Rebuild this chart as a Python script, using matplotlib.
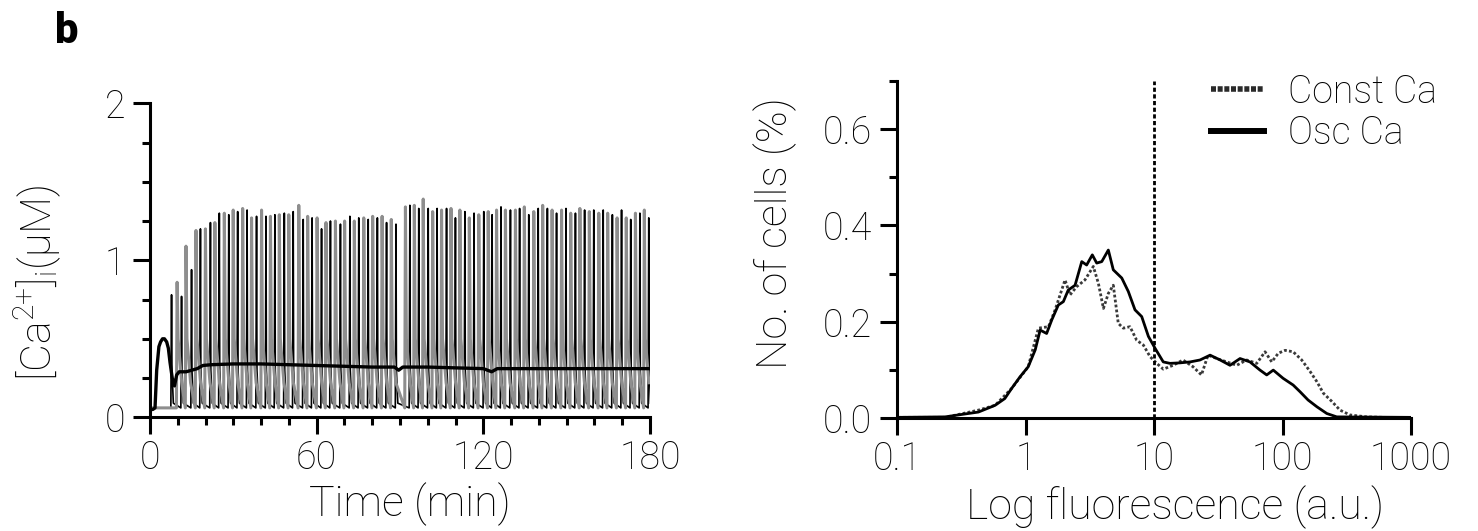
import matplotlib
matplotlib.use("Agg")
import matplotlib.pyplot as plt
from matplotlib.lines import Line2D
from matplotlib.ticker import FixedLocator, NullLocator, FormatStrFormatter

# ---------------- data: panel b (left) ----------------
# mean [Ca2+]i trace (min, uM)
mean_t = [0, 1.0, 1.8, 2.4, 3.2, 3.8, 4.5, 5.2, 6.0, 6.6, 7.2, 8.0, 8.8, 9.6, 10.5, 13, 15, 17, 19,
          22, 30, 40, 50, 60, 70, 80, 88, 89.5, 91, 100, 110, 120, 123, 125, 140, 160, 180]
mean_v = [0.05, 0.05, 0.06, 0.30, 0.45, 0.48, 0.50, 0.50, 0.48, 0.44, 0.35, 0.25, 0.20, 0.27, 0.29,
          0.29, 0.30, 0.31, 0.33, 0.335, 0.34, 0.34, 0.335, 0.33, 0.325, 0.32, 0.32, 0.30, 0.32,
          0.32, 0.315, 0.31, 0.29, 0.31, 0.31, 0.31, 0.31]

# single-cell spikes (time of spike, peak value) - black cell
black_spike_t = [7.6, 11.2, 14.8, 18.0, 21.6, 24.8, 28.2, 31.4, 34.8, 38.2, 41.6, 44.8, 48.2, 51.4,
                 55.0, 58.2, 61.6, 64.8, 68.4, 71.8, 75.0, 78.4, 81.7, 85.0, 88.4, 93.4, 96.6,
                 100.0, 103.2, 106.6, 109.8, 113.2, 116.5, 120.0, 123.0, 126.2, 129.6, 132.9,
                 136.2, 139.6, 142.9, 146.2, 149.6, 153.0, 156.3, 159.6, 163.0, 166.3, 169.6,
                 172.9, 176.2, 179.4]
black_spike_v = [0.78, 0.77, 0.94, 1.20, 1.24, 1.30, 1.29, 1.31, 1.32, 1.28, 1.28, 1.29, 1.30, 1.31,
                 1.26, 1.27, 1.20, 1.25, 1.23, 1.28, 1.27, 1.26, 1.27, 1.24, 1.23, 1.35, 1.33,
                 1.33, 1.33, 1.33, 1.27, 1.31, 1.30, 1.31, 1.29, 1.34, 1.32, 1.33, 1.29, 1.33,
                 1.33, 1.30, 1.33, 1.30, 1.32, 1.32, 1.32, 1.29, 1.32, 1.26, 1.30, 1.27]
# gray cell
gray_spike_t = [9.6, 12.8, 16.4, 19.8, 23.2, 26.6, 29.8, 33.2, 36.4, 40.0, 43.2, 46.4, 49.8, 53.4,
                56.6, 60.0, 63.2, 66.6, 69.9, 73.4, 76.8, 80.0, 83.4, 86.7, 91.8, 95.0, 98.2,
                101.6, 104.8, 108.2, 111.4, 114.8, 118.2, 121.6, 124.6, 127.8, 131.4, 134.6,
                138.0, 141.2, 144.6, 148.0, 151.3, 154.6, 158.0, 161.4, 164.6, 168.0, 171.3,
                174.6, 177.8]
gray_spike_v = [0.86, 1.09, 1.19, 1.20, 1.24, 1.30, 1.32, 1.33, 1.27, 1.32, 1.28, 1.29, 1.29, 1.35,
                1.28, 1.27, 1.24, 1.25, 1.25, 1.25, 1.27, 1.28, 1.28, 1.26, 1.34, 1.35, 1.39,
                1.31, 1.32, 1.33, 1.32, 1.27, 1.29, 1.31, 1.32, 1.32, 1.32, 1.34, 1.31, 1.35,
                1.32, 1.32, 1.30, 1.33, 1.31, 1.30, 1.30, 1.27, 1.27, 1.30, 1.32]
osc_trough = 0.06

time_ticks = [0, 60, 120, 180]
ca_ticks = [0, 1, 2]

# ---------------- data: right panel (histograms) ----------------
osc_x = [0.102, 0.237, 0.318, 0.43, 0.58, 0.69, 0.78, 0.906, 1.05, 1.19,
         1.30, 1.46, 1.60, 1.80, 1.97, 2.15, 2.43, 2.74, 2.99, 3.31,
         3.58, 3.92, 4.41, 4.82, 5.61, 6.31, 7.11, 8.02, 9.04, 10.2,
         11.8, 13.3, 15.9, 19.1, 22.8, 27.3, 32.7, 39.0, 46.7, 55.8,
         66.8, 75.3, 84.7, 101, 121, 137, 158, 185, 221, 264, 977]
osc_y = [0.002, 0.003, 0.008, 0.013, 0.027, 0.041, 0.062, 0.086, 0.107, 0.142,
         0.183, 0.176, 0.204, 0.235, 0.242, 0.266, 0.276, 0.325, 0.318, 0.339,
         0.322, 0.325, 0.349, 0.308, 0.291, 0.263, 0.225, 0.211, 0.170, 0.145,
         0.117, 0.114, 0.115, 0.117, 0.121, 0.131, 0.121, 0.110, 0.124, 0.117,
         0.100, 0.090, 0.100, 0.083, 0.069, 0.055, 0.038, 0.024, 0.010, 0.003, 0.002]
const_x = [0.102, 0.237, 0.43, 0.58, 0.78, 1.05, 1.26, 1.51, 1.70, 2.03,
           2.22, 2.50, 2.90, 3.37, 3.69, 4.04, 4.41, 4.82, 5.27, 5.77,
           6.50, 7.33, 8.26, 9.31, 10.5, 11.8, 14.1, 16.8, 20.1, 23.4,
           26.3, 30.8, 36.8, 44.0, 52.6, 63.0, 73.1, 82.4, 92.7, 104.7,
           121, 141, 164, 185, 208, 242, 280, 335, 452, 608, 977]
const_y = [0.002, 0.002, 0.017, 0.027, 0.062, 0.107, 0.187, 0.190, 0.225, 0.287,
           0.256, 0.273, 0.287, 0.315, 0.280, 0.228, 0.259, 0.276, 0.197, 0.187,
           0.190, 0.162, 0.152, 0.128, 0.114, 0.102, 0.110, 0.121, 0.107, 0.090,
           0.131, 0.124, 0.117, 0.110, 0.121, 0.114, 0.138, 0.117, 0.135, 0.141,
           0.138, 0.121, 0.097, 0.076, 0.052, 0.035, 0.017, 0.007, 0.003, 0.002, 0.001]
threshold = 10
fluor_ticks = [0.1, 1, 10, 100, 1000]
fluor_labels = ["0.1", "1", "10", "100", "1000"]
cells_ticks = [0.0, 0.2, 0.4, 0.6]
cells_minor = [0.1, 0.3, 0.5, 0.7]
legend_labels = ["Const Ca", "Osc Ca"]

# ---------------- style ----------------
plt.rcParams['font.family'] = ['Roboto', 'DejaVu Sans']
plt.rcParams['font.weight'] = 'light'
plt.rcParams['axes.labelweight'] = 'light'
TICK_FS = 27
LABEL_FS = 31
SPINE_W = 2.2


def spike_path(times, peaks, trough, fall1, fall2, d1, d2):
    t = [0.0]
    v = [trough]
    for ti, pi in zip(times, peaks):
        t += [ti - 0.1, ti + 0.15, ti + d1, ti + d2]
        v += [trough, pi, fall1, fall2]
    return t, v


def style_axes(ax):
    for s in ('top', 'right'):
        ax.spines[s].set_visible(False)
    for s in ('left', 'bottom'):
        ax.spines[s].set_linewidth(SPINE_W)
    ax.tick_params(which='major', direction='out', length=12, width=SPINE_W,
                   labelsize=TICK_FS, color='black')
    ax.tick_params(which='minor', direction='out', length=6, width=SPINE_W, color='black')
    ax.tick_params(axis='x', which='major', pad=4)
    ax.tick_params(axis='y', which='major', pad=6)


fig = plt.figure(figsize=(14.78, 5.31), dpi=100)
ax1 = fig.add_axes([0.1015, 0.2141, 0.3383, 0.5914])
ax2 = fig.add_axes([0.6069, 0.2122, 0.3478, 0.6356])

# ---- left panel ----
gt, gv = spike_path(gray_spike_t, gray_spike_v, osc_trough, 0.50, 0.22, 0.5, 1.8)
bt, bv = spike_path(black_spike_t, black_spike_v, osc_trough, 0.30, 0.09, 0.3, 0.8)
ax1.plot(bt, bv, color='black', lw=1.2)
ax1.plot(gt, gv, color='#8e8e8e', lw=2.2)
ax1.plot(mean_t, mean_v, color='black', lw=2.4)
ax1.set_xlim(0, 180)
ax1.set_ylim(0, 2)
style_axes(ax1)
ax1.xaxis.set_major_locator(FixedLocator(time_ticks))
ax1.xaxis.set_minor_locator(FixedLocator(list(range(0, 181, 10))))
ax1.yaxis.set_major_locator(FixedLocator(ca_ticks))
ax1.yaxis.set_minor_locator(FixedLocator([0.25, 0.5, 0.75, 1.25, 1.5, 1.75]))
ax1.set_xlabel('Time (min)', fontsize=LABEL_FS, fontweight='light')
ax1.set_ylabel(r'[Ca$\mathregular{^{2{+}}}$]$\mathregular{_i}$(µM)', fontsize=LABEL_FS,
               fontweight='light')
ax1.yaxis.label.set(va='center', ha='center', rotation_mode='default')
ax1.xaxis.label.set(va='center', ha='center')
ax1.yaxis.set_label_coords(-0.224, 0.428)
ax1.xaxis.set_label_coords(0.52, -0.276)

# ---- right panel ----
ax2.set_xscale('log')
ax2.plot(const_x, const_y, color='#3a3a3a', lw=2.0, linestyle=(0, (1, 0.8)))
ax2.plot(osc_x, osc_y, color='black', lw=2.0)
ax2.axvline(threshold, color='black', lw=2.0, linestyle=(0, (1.5, 0.9)))
ax2.set_xlim(0.1, 1000)
ax2.set_ylim(0, 0.7)
style_axes(ax2)
ax2.xaxis.set_major_locator(FixedLocator(fluor_ticks))
ax2.set_xticklabels(fluor_labels)
ax2.xaxis.set_minor_locator(NullLocator())
ax2.yaxis.set_major_locator(FixedLocator(cells_ticks))
ax2.yaxis.set_minor_locator(FixedLocator(cells_minor))
ax2.yaxis.set_major_formatter(FormatStrFormatter('%.1f'))
ax2.set_xlabel('Log fluorescence (a.u.)', fontsize=LABEL_FS, fontweight='light')
ax2.set_ylabel('No. of cells (%)', fontsize=LABEL_FS, fontweight='light')
ax2.yaxis.label.set(va='center', ha='center', rotation_mode='default')
ax2.xaxis.label.set(va='center', ha='center')
ax2.yaxis.set_label_coords(-0.237, 0.55)
ax2.xaxis.set_label_coords(0.541, -0.263)

handles = [Line2D([], [], color='#2a2a2a', lw=4.0, linestyle=(0, (0.9, 0.3)), dash_capstyle='butt'),
           Line2D([], [], color='black', lw=4.3)]
fig.legend(handles, legend_labels, loc='upper left', bbox_to_anchor=(0.8194, 0.8625),
           frameon=False, fontsize=TICK_FS, handlelength=1.42, handletextpad=0.62,
           labelspacing=0.1, borderpad=0, borderaxespad=0)

fig.text(55 / 1478, 1 - 11 / 531, 'b', fontsize=30, fontweight='black', va='top', ha='left')

fig.savefig('out.png', dpi=100)
